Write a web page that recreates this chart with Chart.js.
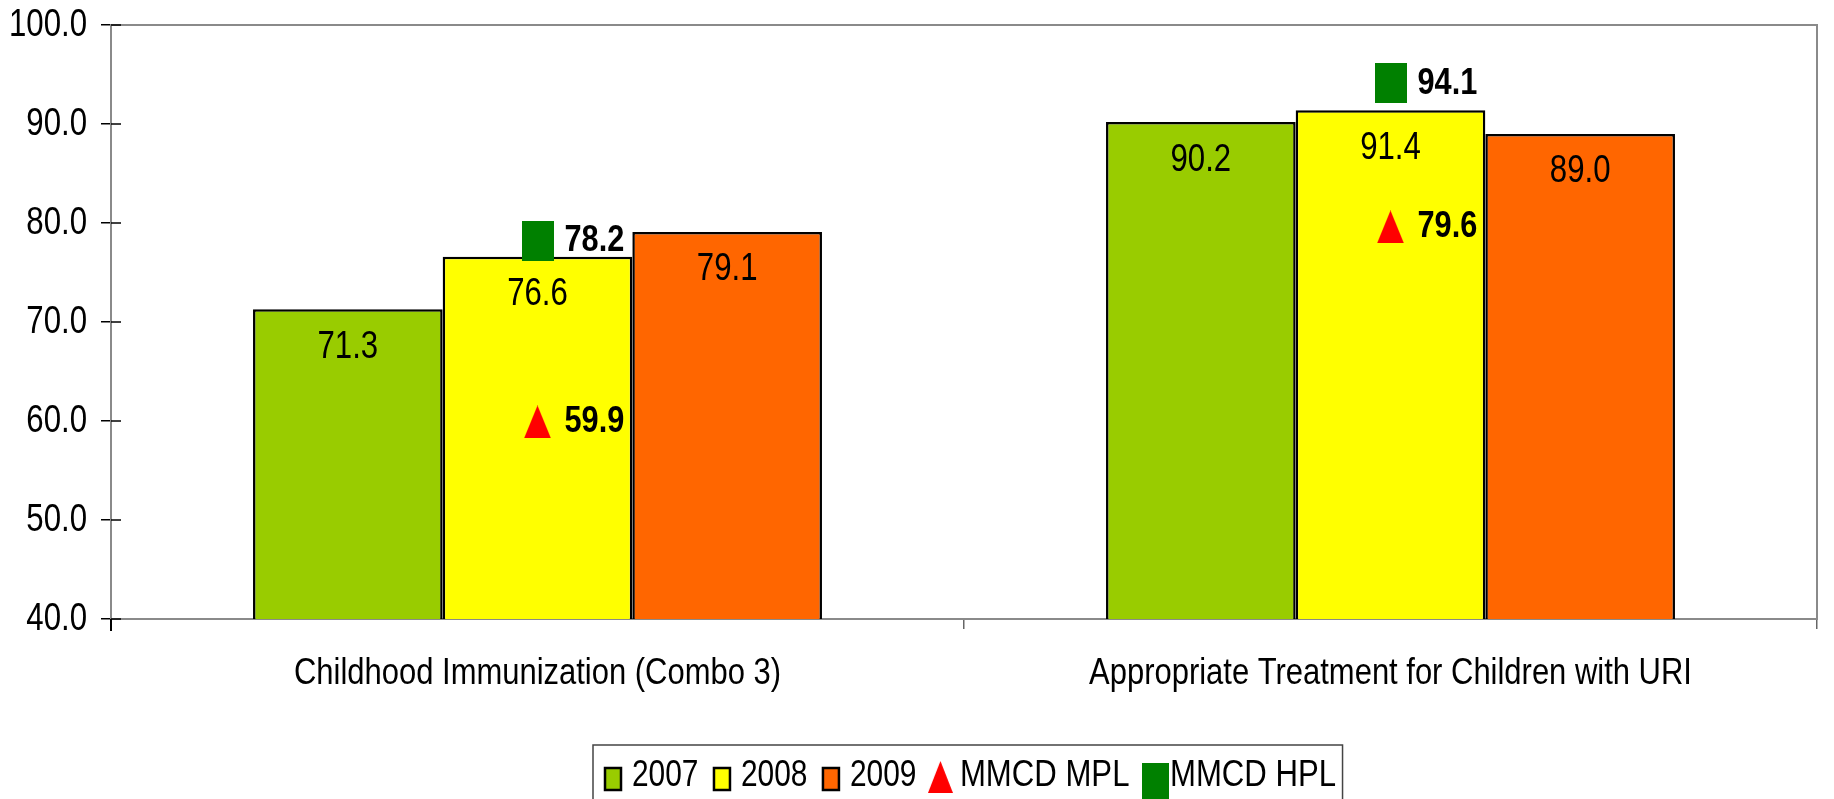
<!DOCTYPE html>
<html lang="en">
<head>
    <meta charset="UTF-8">
    <title>MMCD measures</title>
    <script src="https://cdn.jsdelivr.net/npm/chart.js"></script>
    <style>
        html, body { margin: 0; padding: 0; background: #fff; }
        #wrap { width: 1834px; height: 799px; }
    </style>
</head>
<body>
    <div id="wrap"><canvas id="mainChart" width="1834" height="799"></canvas></div>

    <script>
        // Chart data
        const categories = ['Childhood Immunization (Combo 3)', 'Appropriate Treatment for Children with URI'];
        const seriesLabels = ['2007', '2008', '2009', 'MMCD MPL', 'MMCD HPL'];
        const values2007 = [71.3, 90.2];
        const values2008 = [76.6, 91.4];
        const values2009 = [79.1, 89.0];
        const mplValues = [59.9, 79.6];
        const hplValues = [78.2, 94.1];
        const yMin = 40, yMax = 100, yStep = 10;

        const FAMILY = '"Liberation Sans", Arial, sans-serif';

        // no Arial Narrow installed, so squeeze Liberation Sans horizontally
        function narrowText(ctx, text, x, y, font, align, squeeze) {
            ctx.save();
            ctx.font = font;
            ctx.textAlign = align || 'left';
            ctx.textBaseline = 'middle';
            ctx.translate(x, y);
            ctx.scale(squeeze, 1);
            ctx.fillText(text, 0, 0);
            const w = ctx.measureText(text).width * squeeze;
            ctx.restore();
            return w;
        }

        // marker images
        function makeTriangle(w, h, color) {
            const c = document.createElement('canvas');
            c.width = w; c.height = h;
            const g = c.getContext('2d');
            g.fillStyle = color;
            g.beginPath();
            g.moveTo(w / 2, 0);
            g.lineTo(w, h);
            g.lineTo(0, h);
            g.closePath();
            g.fill();
            return c;
        }
        function makeRect(w, h, color) {
            const c = document.createElement('canvas');
            c.width = w; c.height = h;
            const g = c.getContext('2d');
            g.fillStyle = color;
            g.fillRect(0, 0, w, h);
            return c;
        }
        const triImg = makeTriangle(27, 33, '#ff0000');
        const rectImg = makeRect(32, 40, '#008000');
        const triLegend = makeTriangle(25, 32, '#ff0000');
        const rectLegend = makeRect(27, 40, '#008000');

        // frame, crossing y ticks, y labels and category labels
        const framePlugin = {
            id: 'frame',
            beforeDatasetsDraw(chart) {
                const { ctx, chartArea: a } = chart;
                ctx.save();
                ctx.strokeStyle = '#8a8a8a';
                ctx.lineWidth = 2;
                ctx.strokeRect(a.left, a.top, a.right - a.left, a.bottom - a.top);
                ctx.strokeStyle = '#000';
                ctx.lineWidth = 1.5;
                ctx.fillStyle = '#000';
                const y = chart.scales.y;
                y.ticks.forEach(t => {
                    const py = y.getPixelForValue(t.value);
                    ctx.beginPath();
                    ctx.moveTo(a.left, py);
                    ctx.lineTo(a.left + 10, py);
                    ctx.stroke();
                    narrowText(ctx, t.value.toFixed(1), a.left - 24, py, '39px ' + FAMILY, 'right', 0.8);
                });
                // axis line runs a little below the plot
                ctx.lineWidth = 2;
                ctx.beginPath();
                ctx.moveTo(a.left, a.bottom);
                ctx.lineTo(a.left, a.bottom + 12);
                ctx.stroke();
                const x = chart.scales.x;
                chart.data.labels.forEach((lab, i) => {
                    narrowText(ctx, lab, x.getPixelForValue(i), a.bottom + 55, '36px ' + FAMILY, 'center', 0.86);
                });
                ctx.restore();
            }
        };

        // value labels
        const labelPlugin = {
            id: 'labels',
            afterDatasetsDraw(chart) {
                const ctx = chart.ctx;
                ctx.save();
                ctx.fillStyle = '#000';
                chart.data.datasets.forEach((ds, di) => {
                    const meta = chart.getDatasetMeta(di);
                    meta.data.forEach((el, i) => {
                        const v = ds.data[i].toFixed(1);
                        if (ds.type === 'bar') {
                            narrowText(ctx, v, el.x, el.y + 38, '38px ' + FAMILY, 'center', 0.82);
                        } else {
                            narrowText(ctx, v, el.x + 27, el.y, 'bold 37px ' + FAMILY, 'left', 0.83);
                        }
                    });
                });
                ctx.restore();
            }
        };

        // boxed legend at the bottom
        const legendPlugin = {
            id: 'boxLegend',
            afterDraw(chart) {
                const ctx = chart.ctx;
                ctx.save();
                const cy = 776;
                let x = 604;
                chart.data.datasets.forEach(ds => {
                    if (ds.type === 'bar') {
                        ctx.fillStyle = ds.backgroundColor;
                        ctx.fillRect(x + 1, cy - 8, 16, 22);
                        ctx.strokeStyle = '#000';
                        ctx.lineWidth = 2.5;
                        ctx.strokeRect(x + 1, cy - 8, 16, 22);
                        x += 28;
                    } else if (ds.pointStyle === triImg) {
                        x -= 3;
                        ctx.drawImage(triLegend, x, cy - 15);
                        x += 32;
                    } else {
                        x -= 2;
                        ctx.drawImage(rectLegend, x, cy - 13);
                        x += 28;
                    }
                    ctx.fillStyle = '#000';
                    const sq = /\d/.test(ds.label) ? 0.83 : 0.865;
                    x += narrowText(ctx, ds.label, x, cy, '36px ' + FAMILY, 'left', sq) + 14.5;
                });
                ctx.strokeStyle = '#444';
                ctx.lineWidth = 1.5;
                ctx.strokeRect(593, 745, x - 593 - 8, 70);
                ctx.restore();
            }
        };

        const barBase = {
            type: 'bar',
            borderColor: '#000',
            borderWidth: 2.5,
            borderSkipped: false,
            categoryPercentage: 0.667,
            barPercentage: 1.0,
            order: 2
        };
        const markerBase = {
            type: 'line',
            showLine: false,
            pointRadius: 16,
            pointHoverRadius: 16,
            order: 1
        };

        new Chart(document.getElementById('mainChart').getContext('2d'), {
            data: {
                labels: categories,
                datasets: [
                    { ...barBase, label: seriesLabels[0], data: values2007, backgroundColor: '#99cc00' },
                    { ...barBase, label: seriesLabels[1], data: values2008, backgroundColor: '#ffff00' },
                    { ...barBase, label: seriesLabels[2], data: values2009, backgroundColor: '#ff6600' },
                    { ...markerBase, label: seriesLabels[3], data: mplValues, pointStyle: triImg },
                    { ...markerBase, label: seriesLabels[4], data: hplValues, pointStyle: rectImg }
                ]
            },
            options: {
                responsive: false,
                animation: false,
                layout: { padding: { left: 0, top: 25, right: 8, bottom: 0 } },
                plugins: {
                    legend: { display: false },
                    tooltip: { enabled: false }
                },
                scales: {
                    x: {
                        offset: true,
                        grid: { offset: true, drawOnChartArea: false, tickLength: 10, color: '#666', lineWidth: 1.5 },
                        border: { color: '#555', width: 2 },
                        ticks: { display: false },
                        afterFit(scale) { scale.height = 180; }
                    },
                    y: {
                        min: yMin,
                        max: yMax,
                        ticks: { stepSize: yStep, display: false },
                        grid: { drawOnChartArea: false, tickLength: 10, color: '#000', lineWidth: 1.5 },
                        border: { color: '#000', width: 2 },
                        afterFit(scale) { scale.width = 111; }
                    }
                }
            },
            plugins: [framePlugin, labelPlugin, legendPlugin]
        });
    </script>
</body>
</html>
